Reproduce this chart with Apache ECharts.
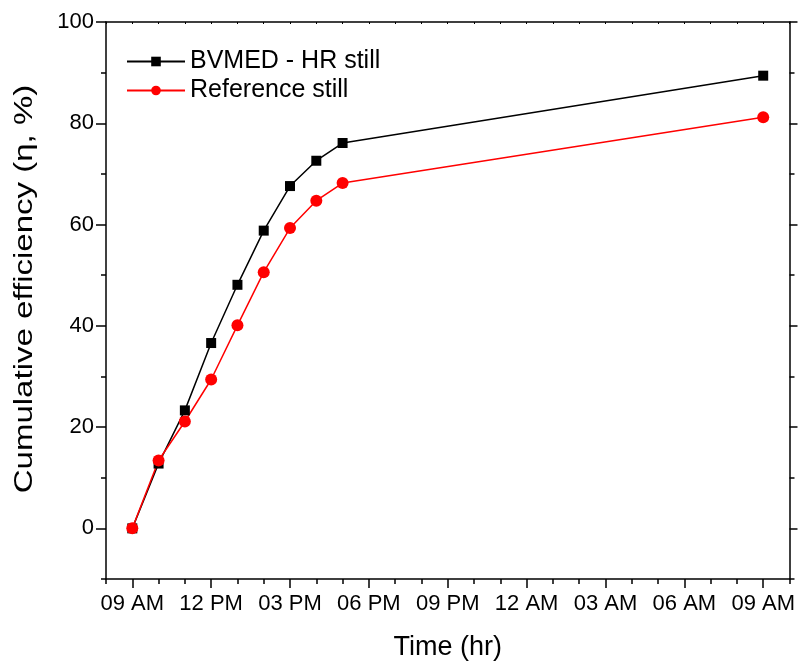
<!doctype html>
<html lang="en">
<head>
    <meta charset="utf-8">
    <title>Cumulative efficiency</title>
    <style>
        html, body { margin: 0; padding: 0; background: #fff; }
        #chart { width: 798px; height: 666px; }
    </style>
</head>
<body>
    <div id="chart"></div>
    <script src="https://cdn.jsdelivr.net/npm/echarts@6/dist/echarts.min.js"></script>
    <script>
        // hours after 09 AM
        const hours = [0, 1, 2, 3, 4, 5, 6, 7, 8, 24];
        const bvmed = [0, 12.8, 23.3, 36.6, 48.1, 58.8, 67.6, 72.6, 76.1, 89.4];
        const reference = [0, 13.4, 21.1, 29.4, 40.1, 50.6, 59.3, 64.7, 68.2, 81.2];
        const xMajor = [0, 3, 6, 9, 12, 15, 18, 21, 24];
        const xMinor = [-1, 1, 2, 4, 5, 7, 8, 10, 11, 13, 14, 16, 17, 19, 20, 22, 23, 25];
        const yMajor = [0, 20, 40, 60, 80, 100];
        const yMinor = [-10, 10, 30, 50, 70, 90];

        function clockLabel(v) {
            let h = (9 + v) % 24;
            let ampm = h < 12 ? 'AM' : 'PM';
            let h12 = h % 12 === 0 ? 12 : h % 12;
            return String(h12).padStart(2, '0') + ' ' + ampm;
        }

        const font = 'Liberation Sans';
        const lineStyle = { color: '#000', width: 1.5 };

        let myChart = echarts.init(document.getElementById('chart'));
        let option = {
            animation: false,
            textStyle: { fontFamily: font },
            grid: { left: 106, right: 8, top: 22, bottom: 87 },
            legend: {
                left: 121, top: 44, orient: 'vertical',
                itemWidth: 58, itemHeight: 12, itemGap: 4,
                textStyle: { fontFamily: font, fontSize: 25, color: '#000' },
                data: ['BVMED - HR still', 'Reference still']
            },
            // y title as text so it can be stretched like the original
            graphic: [{
                type: 'text', x: 25, y: 289, rotation: Math.PI / 2, scaleX: 1.27,
                style: {
                    text: 'Cumulative efficiency (\u03b7, %)',
                    font: '26px "Liberation Sans"', fill: '#000',
                    textAlign: 'center', textVerticalAlign: 'middle'
                }
            }],
            xAxis: [
                {
                    type: 'value', position: 'bottom', min: -1, max: 25,
                    name: 'Time (hr)', nameLocation: 'middle', nameGap: 55,
                    nameTextStyle: { fontFamily: font, fontSize: 27, color: '#000' },
                    axisLine: { show: true, onZero: false, lineStyle: lineStyle },
                    axisTick: { show: true, customValues: xMajor, length: 9, lineStyle: lineStyle },
                    axisLabel: { customValues: xMajor, formatter: clockLabel, margin: 14,
                                 fontFamily: font, fontSize: 22, color: '#000' },
                    splitLine: { show: false }
                },
                {
                    type: 'value', position: 'bottom', min: -1, max: 25,
                    axisLine: { show: false, onZero: false },
                    axisTick: { show: true, customValues: xMinor, length: 5, lineStyle: lineStyle },
                    axisLabel: { show: false },
                    splitLine: { show: false }
                },
                {
                    type: 'value', position: 'top', min: -1, max: 25,
                    axisLine: { show: true, onZero: false, lineStyle: lineStyle },
                    axisTick: { show: true, inside: true, customValues: xMajor.concat(xMinor), length: 2,
                                lineStyle: { color: '#000', width: 1 } },
                    axisLabel: { show: false },
                    splitLine: { show: false }
                }
            ],
            yAxis: [
                {
                    type: 'value', position: 'left', min: -10, max: 100,
                    axisLine: { show: true, onZero: false, lineStyle: lineStyle },
                    axisTick: { show: true, customValues: yMajor, length: 10, lineStyle: lineStyle },
                    axisLabel: { customValues: yMajor, margin: 12, fontFamily: font, fontSize: 22, color: '#000' },
                    splitLine: { show: false }
                },
                {
                    type: 'value', position: 'left', min: -10, max: 100,
                    axisLine: { show: false, onZero: false },
                    axisTick: { show: true, customValues: yMinor, length: 5, lineStyle: lineStyle },
                    axisLabel: { show: false },
                    splitLine: { show: false }
                },
                {
                    type: 'value', position: 'right', min: -10, max: 100,
                    axisLine: { show: true, onZero: false, lineStyle: lineStyle },
                    axisTick: { show: true, customValues: yMajor, length: 8, lineStyle: lineStyle },
                    axisLabel: { show: false },
                    splitLine: { show: false }
                },
                {
                    type: 'value', position: 'right', min: -10, max: 100,
                    axisLine: { show: false, onZero: false },
                    axisTick: { show: true, customValues: yMinor, length: 5, lineStyle: lineStyle },
                    axisLabel: { show: false },
                    splitLine: { show: false }
                }
            ],
            series: [
                {
                    name: 'BVMED - HR still', type: 'line',
                    data: hours.map((h, i) => [h, bvmed[i]]),
                    symbol: 'rect', symbolSize: 10,
                    itemStyle: { color: '#000' },
                    lineStyle: { color: '#000', width: 1.5 }
                },
                {
                    name: 'Reference still', type: 'line',
                    data: hours.map((h, i) => [h, reference[i]]),
                    symbol: 'circle', symbolSize: 12,
                    itemStyle: { color: '#ff0000' },
                    lineStyle: { color: '#ff0000', width: 1.5 }
                }
            ]
        };
        myChart.setOption(option);
    </script>
</body>
</html>
